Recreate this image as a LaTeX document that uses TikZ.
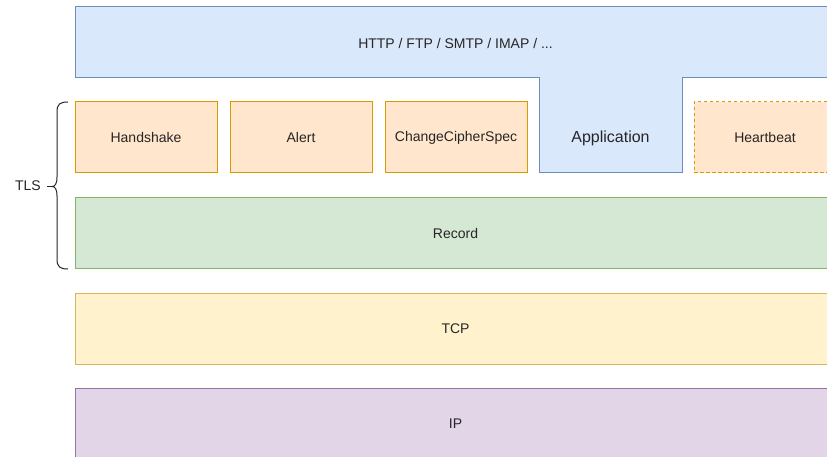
\documentclass[tikz,border=0pt]{standalone}
\usepackage{fontspec}
\setmainfont{Liberation Sans}
\definecolor{blueFill}{HTML}{DAE8FC}
\definecolor{blueLine}{HTML}{6C8EBF}
\definecolor{orangeFill}{HTML}{FFE6CC}
\definecolor{orangeLine}{HTML}{D79B00}
\definecolor{greenFill}{HTML}{D5E8D4}
\definecolor{greenLine}{HTML}{82B366}
\definecolor{yellowFill}{HTML}{FFF2CC}
\definecolor{yellowLine}{HTML}{D6B656}
\definecolor{purpleFill}{HTML}{E1D5E7}
\definecolor{purpleLine}{HTML}{9673A6}
\tikzset{
  layer/.style={draw, line width=1pt, inner sep=0pt, anchor=center,
    font=\fontsize{14}{16}\selectfont, text=black!85},
  subproto/.style={layer, fill=orangeFill, draw=orangeLine,
    minimum width=142pt, minimum height=71pt},
  widelayer/.style={layer, minimum width=761pt, minimum height=71pt},
  plainlabel/.style={inner sep=0pt, text=black!85},
}
\begin{document}
\begin{tikzpicture}[x=1pt,y=-1pt]
\useasboundingbox (0,0) rectangle (827,457);
\clip (0,0) rectangle (827,457);

% application layer with the tab reaching down into the TLS row
\draw[line width=1pt, fill=blueFill, draw=blueLine]
  (75,7) -- (836,7) -- (836,78) -- (682,78) -- (682,173) -- (539,173)
  -- (539,78) -- (75,78) -- cycle;
\node[plainlabel, font=\fontsize{14}{16}\selectfont] (app) at (455.5,43) {HTTP / FTP / SMTP / IMAP / ...};
\node[plainlabel, font=\fontsize{16}{18}\selectfont] (appdata) at (610.5,138) {Application};

% TLS sub-protocols
\node[subproto] (handshake) at (146,137.5) {Handshake};
\node[subproto] (alert) at (301,137.5) {Alert};
\node[subproto] (ccs) at (456,137.5) {ChangeCipherSpec};
\node[subproto, dash pattern=on 3.5pt off 2.5pt] (heartbeat) at (765,137.5) {Heartbeat};

% lower layers
\node[widelayer, fill=greenFill, draw=greenLine] (record) at (455.5,233) {Record};
\node[widelayer, fill=yellowFill, draw=yellowLine] (tcp) at (455.5,328.5) {TCP};
\node[widelayer, fill=purpleFill, draw=purpleLine] (ip) at (455.5,423.5) {IP};

% brace grouping the TLS rows
\draw[line width=1pt, black!85]
  (68,102) .. controls (60,102) and (57,104) .. (57,112) -- (57,177)
  .. controls (57,184) and (55,186.5) .. (52,186.5)
  .. controls (55,186.5) and (57,189) .. (57,196) -- (57,259)
  .. controls (57,267) and (60,269) .. (68,269);
\coordinate (bracetip) at (52,186.5);
\node[plainlabel, font=\fontsize{14}{16}\selectfont, anchor=east] (tls) at (41,186) {TLS};
\draw[line width=1pt, black!85] (tls.east) ++(6,0.5) coordinate (dashstart) (dashstart) -- (bracetip);
\end{tikzpicture}
\end{document}
